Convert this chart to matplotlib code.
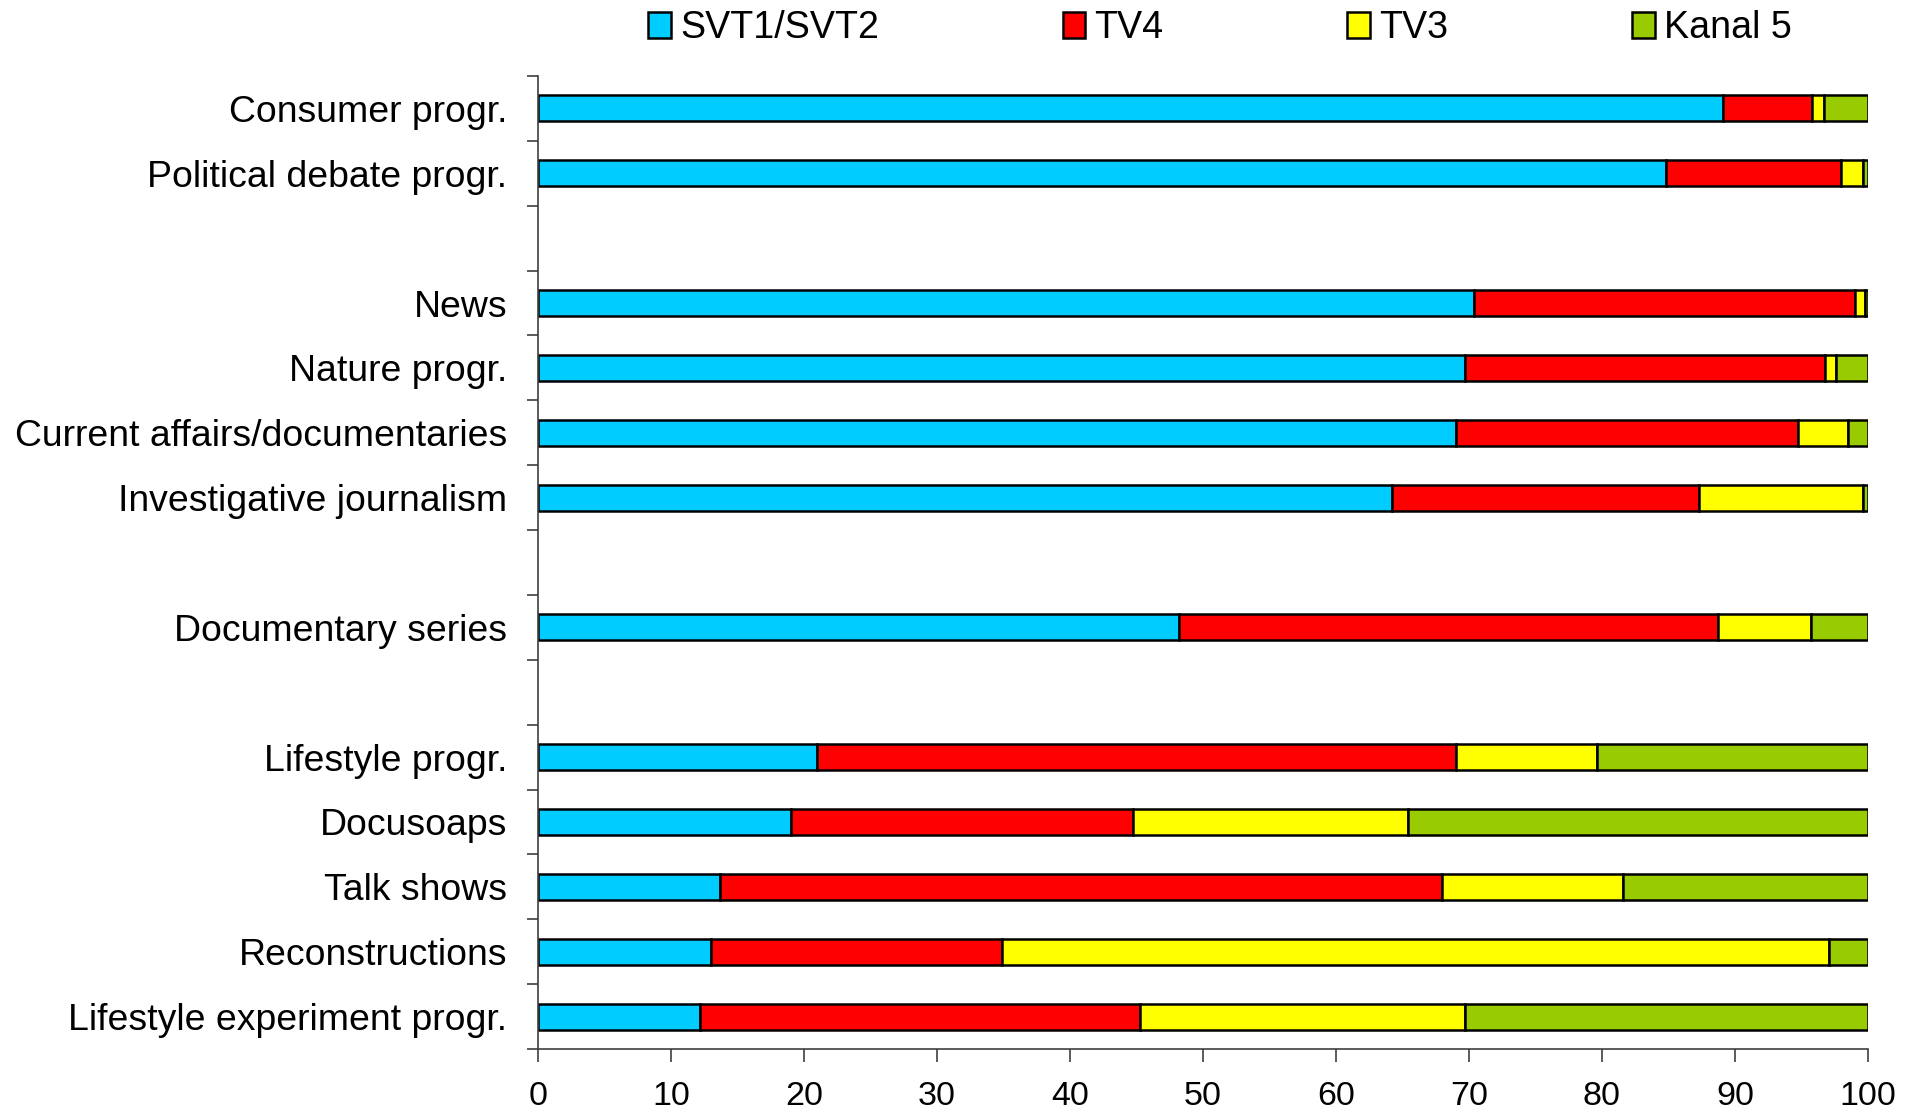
import matplotlib
matplotlib.use("Agg")
import matplotlib.pyplot as plt
import numpy as np

plt.rcParams['font.family'] = ['Liberation Sans', 'DejaVu Sans']

categories = ["Consumer progr.", "Political debate progr.", "",
              "News", "Nature progr.", "Current affairs/documentaries",
              "Investigative journalism", "", "Documentary series", "",
              "Lifestyle progr.", "Docusoaps", "Talk shows",
              "Reconstructions", "Lifestyle experiment progr."]
series_names = ["SVT1/SVT2", "TV4", "TV3", "Kanal 5"]
svt = [89.1, 84.8, None, 70.4, 69.7, 69.0, 64.2, None, 48.2, None, 21.0, 19.0, 13.7, 13.0, 12.2]
tv4 = [6.7, 13.2, None, 28.6, 27.1, 25.7, 23.1, None, 40.5, None, 48.0, 25.7, 54.3, 21.9, 33.1]
tv3 = [0.9, 1.6, None, 0.8, 0.8, 3.8, 12.3, None, 7.0, None, 10.6, 20.7, 13.6, 62.2, 24.4]
kanal5 = [3.3, 0.4, None, 0.2, 2.4, 1.5, 0.4, None, 4.3, None, 20.4, 34.6, 18.4, 2.9, 30.3]
colors = ["#00CCFF", "#FF0000", "#FFFF00", "#99CC00"]

fig = plt.figure(figsize=(19.17, 11.14), dpi=100)
ax = fig.add_axes([538/1917, 1-1049/1114, (1868-538)/1917, (1049-76)/1114])

y = np.arange(len(categories))
data = [svt, tv4, tv3, kanal5]
left = np.zeros(len(categories))
for vals, col, name in zip(data, colors, series_names):
    v = np.array([0 if x is None else x for x in vals], dtype=float)
    mask = np.array([x is not None for x in vals])
    ax.barh(y[mask], v[mask], left=left[mask], height=0.4, color=col,
            edgecolor='black', linewidth=1.8, label=name)
    left += v

ax.set_xlim(0, 100)
ax.set_ylim(len(categories) - 0.5, -0.5)
ax.set_xticks(np.arange(0, 101, 10))
ax.set_yticks(y)
ax.set_yticklabels(categories)
ax.set_yticks(np.arange(-0.5, len(categories)), minor=True)
ax.tick_params(axis='y', which='major', length=0, pad=22, labelsize=26.9)
ax.tick_params(axis='y', which='minor', length=8, width=1.2, color='#404040', direction='out')
ax.tick_params(axis='x', which='major', length=9, width=1.2, color='#404040', labelsize=24.5, pad=14)
for s in ['top', 'right']:
    ax.spines[s].set_visible(False)
for s in ['left', 'bottom']:
    ax.spines[s].set_color('#404040')
    ax.spines[s].set_linewidth(1.2)

leg = fig.legend(loc='center left', bbox_to_anchor=(648/1917, 1-28/1114), ncol=4,
                 frameon=False, fontsize=27.1, handlelength=0.6, handleheight=0.68,
                 handletextpad=0.25, columnspacing=4.88, borderpad=0, borderaxespad=0)

fig.savefig("out.png", dpi=100)
